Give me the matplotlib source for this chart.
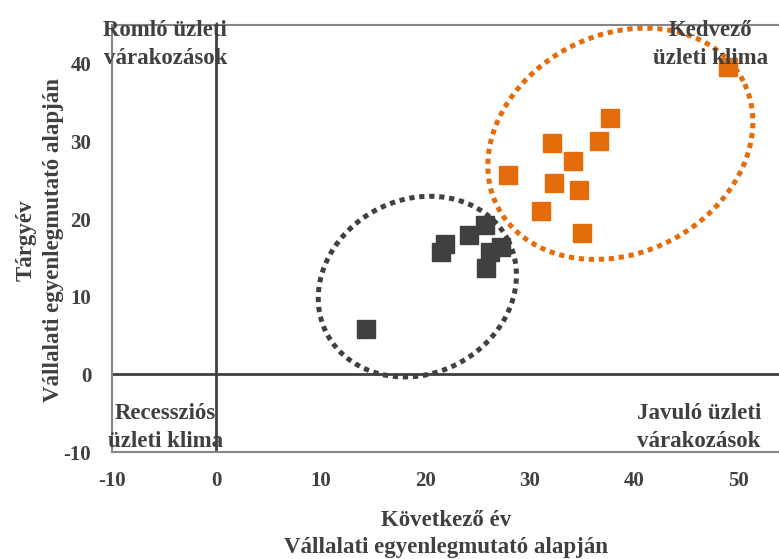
"""Business climate quadrant scatter (current vs next year balance)."""

import numpy as np
from matplotlib import pyplot as plt

# data
dark_x = [14.3, 21.9, 21.5, 24.2, 25.7, 26.2, 27.3, 25.8]
dark_y = [5.9, 16.8, 15.7, 18.0, 19.2, 15.7, 16.4, 13.7]
orange_x = [49.0, 37.7, 32.2, 36.7, 34.2, 27.9, 32.3, 34.7, 31.1, 35.0]
orange_y = [39.6, 33.0, 29.8, 30.0, 27.5, 25.7, 24.7, 23.8, 21.1, 18.2]
x_ticks = [-10, 0, 10, 20, 30, 40, 50]
y_ticks = [-10, 0, 10, 20, 30, 40]

DARK = "#404040"
ORANGE = "#E46C0A"
FRAME = "#868686"

plt.rcParams["font.family"] = ["Liberation Serif", "DejaVu Serif"]
plt.rcParams["axes.unicode_minus"] = False

fig = plt.figure(figsize=(7.79, 5.59), dpi=100)
ax = fig.add_axes([0.1438, 0.1914, 0.8562, 0.7639])
ax.set_xlim(-10, 53.9)
ax.set_ylim(-10, 45)

# frame
for side in ("left", "top", "bottom"):
    ax.spines[side].set_color(FRAME)
    ax.spines[side].set_linewidth(1.5)
ax.spines["right"].set_visible(False)
ax.axvline(0, color=DARK, linewidth=2, zorder=1)
ax.axhline(0, color=DARK, linewidth=2, zorder=1)

ax.set_xticks(x_ticks)
ax.set_yticks(y_ticks)
ax.tick_params(length=0, labelsize=15, labelcolor=DARK)
ax.tick_params(axis="x", pad=14)
ax.tick_params(axis="y", pad=15)
for lab in ax.get_xticklabels() + ax.get_yticklabels():
    lab.set_fontweight("bold")


def dotted_ellipse(cx, cy, a_px, b_px, angle_deg, color):
    """Draw an ellipse given in pixel units, mapped back to data units."""
    sx = 10.44  # px per x unit
    sy = 7.76   # px per y unit
    t = np.linspace(0, 2 * np.pi, 400)
    th = np.radians(angle_deg)
    px = a_px * np.cos(t) * np.cos(th) - b_px * np.sin(t) * np.sin(th)
    py = a_px * np.cos(t) * np.sin(th) + b_px * np.sin(t) * np.cos(th)
    ax.plot(cx + px / sx, cy + py / sy, color=color, linewidth=3.6,
            linestyle=(0, (1.05, 0.95)), zorder=2)


dotted_ellipse(19.25, 11.3, 102, 87, 27, DARK)
dotted_ellipse(38.7, 29.7, 138, 109, 27, ORANGE)

ax.plot(dark_x, dark_y, "s", color=DARK, markersize=13.5, zorder=3)
ax.plot(orange_x, orange_y, "s", color=ORANGE, markersize=13.5, zorder=3)

# quadrant captions
cap = dict(fontsize=16.5, fontweight="bold", color=DARK, ha="center",
           va="center", linespacing=1.45, zorder=4)
ax.text(-4.9, 42.5, "Romló üzleti\nvárakozások", **cap)
ax.text(47.3, 42.5, "Kedvező\nüzleti klima", **cap)
ax.text(-4.9, -6.8, "Recessziós\nüzleti klima", **cap)
ax.text(46.2, -6.8, "Javuló üzleti\nvárakozások", **cap)

lab = dict(fontsize=16.5, fontweight="bold", color=DARK, ha="center",
           va="center", linespacing=1.4)
fig.text(446 / 779, 1 - 534 / 559, "Következő év\nVállalati egyenlegmutató alapján", **lab)
fig.text(40 / 779, 1 - 240 / 559, "Tárgyév\nVállalati egyenlegmutató alapján",
         rotation=90, **lab)

plt.savefig("out.png", dpi=100)
